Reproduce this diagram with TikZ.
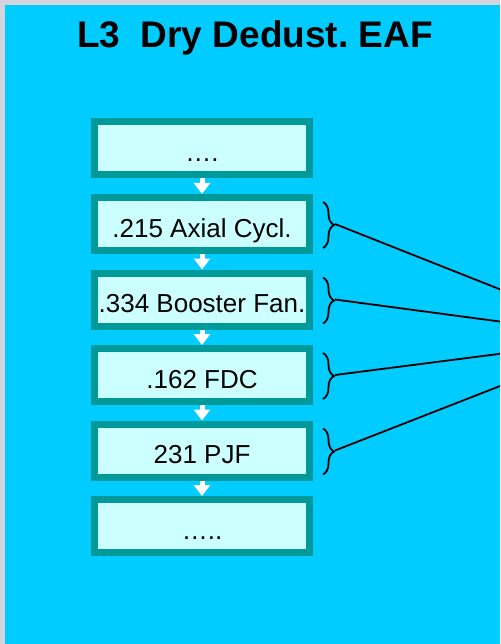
\documentclass[tikz,border=0pt]{standalone}
\usepackage{fontspec}
\setmainfont{Liberation Sans}
\usepackage{xcolor}
\usetikzlibrary{arrows.meta,positioning,decorations.pathreplacing}

\definecolor{skycyan}{HTML}{00CCFF}
\definecolor{stageteal}{HTML}{009999}
\definecolor{stagefill}{HTML}{CCFFFF}
\definecolor{framegray}{HTML}{D3D4DC}

\frenchspacing

\begin{document}
\begin{tikzpicture}[
        x=1pt, y=1pt,
        node distance=15.5pt,
        stage/.style={rectangle, draw=stageteal, line width=7pt, fill=stagefill, minimum width=215pt, minimum height=53pt, inner sep=0pt, text height=26pt, text depth=0pt, font=\fontsize{26}{30}\selectfont},
        flow/.style={draw=white, line width=5pt, -{Triangle[width=16pt,length=11pt]}},
        curly/.style={draw=black, line width=1.8pt, decorate, decoration={brace, amplitude=11pt}},
        link/.style={draw=black, line width=1.8pt},
        ]

        % Background and frame
        \clip (0,0) rectangle (500,-644);
        \fill[framegray] (0,0) rectangle (500,-644);
        \fill[skycyan] (5,-5) rectangle (500,-644);

        % Title
        \node[font=\fontsize{37}{42}\selectfont\bfseries, anchor=base] (title) at (255,-48) {L3\ \ Dry Dedust. EAF};

        % Process chain
        \node[stage] (first) at (202,-148.5) {….};
        \node[stage, below=of first] (cycl) {.215 Axial Cycl.};
        \node[stage, below=of cycl] (booster) {.334 Booster Fan.};
        \node[stage, below=of booster] (fdc) {.162 FDC};
        \node[stage, below=of fdc] (pjf) {231 PJF};
        \node[stage, below=of pjf] (last) {…..};

        % Arrows between stages
        \draw[flow] (first) -- (cycl);
        \draw[flow] (cycl) -- (booster);
        \draw[flow] (booster) -- (fdc);
        \draw[flow] (fdc) -- (pjf);
        \draw[flow] (pjf) -- (last);

        % Braces and lines to the right
        \coordinate (hub) at (623,-338);
        \foreach \s in {cycl, booster, fdc, pjf} {
            \draw[curly] ([xshift=10pt,yshift=-8pt]\s.north east) -- ([xshift=10pt,yshift=6pt]\s.south east);
            \coordinate (\s-tip) at ([xshift=22pt]\s.east);
            \draw[link] (\s-tip) -- (hub);
        }

    \end{tikzpicture}
\end{document}
